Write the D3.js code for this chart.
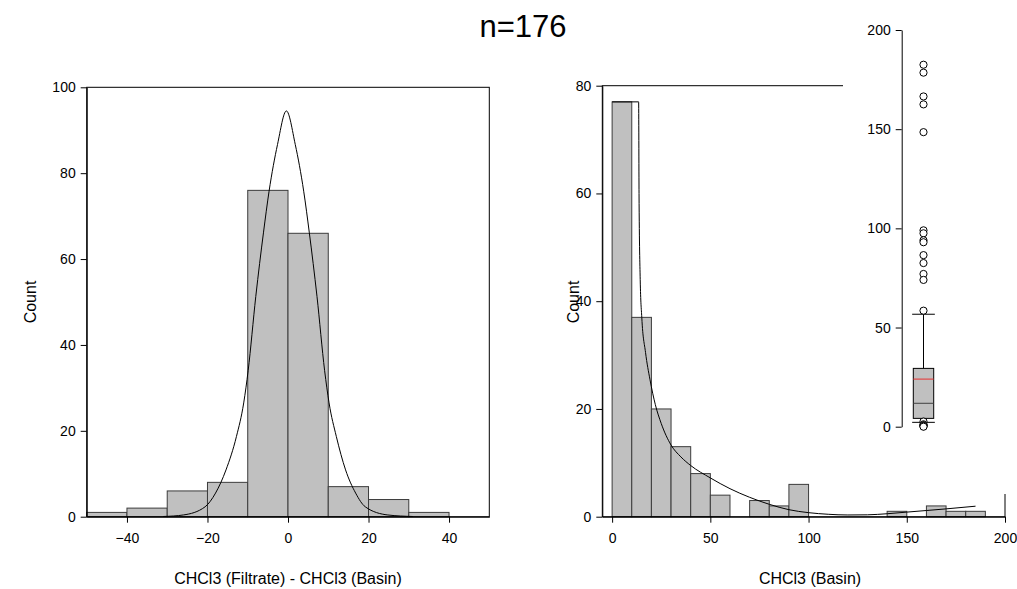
<!DOCTYPE html>
<html><head><meta charset="utf-8">
<script src="https://cdn.jsdelivr.net/npm/d3@7"></script>
<style>
body{margin:0;background:#fff;}
svg{display:block;font-family:"Liberation Sans",Arial,sans-serif;}
</style></head>
<body><svg id="c" width="1017" height="589"></svg>
<script>
// ---- data ----
const titleText = "n=176";
const leftBinStarts = [-50,-40,-30,-20,-10,0,10,20,30,40];
const leftCounts    = [1,2,6,8,76,66,7,4,1,0];
const leftBinWidth = 10;
const leftCurveX = [-31,-26,-20.6,-18,-15.4,-12.8,-11,-9.9,-8,-6.1,-4.7,-2.6,-0.4,1.8,3.9,5.3,7.2,9.1,10.2,12,14.3,16.8,19.2,24.8,31];
const leftCurveY = [0.05,0.4,2.3,5.5,10.9,18.7,26.5,34,51.3,66.1,75.8,86.7,94.5,86.7,75.8,66.1,51.3,34,26.5,18.7,10.9,5.5,2.3,0.4,0.05];
const leftXTicks = [-40,-20,0,20,40];
const leftYTicks = [0,20,40,60,80,100];

const rightBinStarts = [0,10,20,30,40,50,60,70,80,90,100,110,120,130,140,150,160,170,180];
const rightCounts    = [77,37,20,13,8,4,0,3,2,6,0,0,0,0,1,0,2,1,1];
const rightBinWidth = 10;
const rightCurveX = [0,13.5,13.7,14.3,15.1,17,19.3,22,25,30,35,40,50,60,70,80,90,100,110,120,130,140,150,160,170,185];
const rightCurveY = [77,77,60,44,37,30.5,25.4,20.8,17.3,13.3,11.1,9.5,7.2,5.2,3.6,2.3,1.3,0.75,0.45,0.32,0.35,0.55,0.85,1.15,1.45,1.95];
const rightXTicks = [0,50,100,150,200];
const rightYTicks = [0,20,40,60,80];

const boxStats = {q1:4.2, median:11.8, mean:24, q3:29.4, whiskerLow:2.2, whiskerHigh:56.7};
const boxOutliers = [182.5,178.5,166.5,162.5,148.5,99,97.5,94,93,86.5,82.5,77,74,58.5,2.6,1.2,0.8,0.5,0.2,0];
const boxYTicks = [0,50,100,150,200];

const xLabelLeft = "CHCl3 (Filtrate) - CHCl3 (Basin)";
const xLabelRight = "CHCl3 (Basin)";
const yLabel = "Count";

// ---- drawing ----
const svg = d3.select("#c");
const barFill = "#c0c0c0", barStroke = "#3c3c3c";
const tickFont = "14px", labelFont = "16px";

// Left panel
const xL = d3.scaleLinear().domain([-50,50]).range([86.7,489.3]);
const yL = d3.scaleLinear().domain([0,100]).range([516.7,87.3]);
const gL = svg.append("g");
gL.selectAll("rect.bar").data(leftBinStarts.map((s,i)=>({s,c:leftCounts[i]})).filter(d=>d.c>0))
  .join("rect").attr("x",d=>xL(d.s)).attr("y",d=>yL(d.c))
  .attr("width",d=>xL(d.s+leftBinWidth)-xL(d.s)).attr("height",d=>yL(0)-yL(d.c))
  .attr("fill",barFill).attr("stroke",barStroke).attr("stroke-width",1);
gL.append("path").datum(leftCurveX.map((x,i)=>[x,leftCurveY[i]]))
  .attr("d",d3.line().x(d=>xL(d[0])).y(d=>yL(d[1])).curve(d3.curveMonotoneX))
  .attr("fill","none").attr("stroke","#000").attr("stroke-width",1);
gL.append("rect").attr("x",xL(-50)).attr("y",yL(100)).attr("width",xL(50)-xL(-50)).attr("height",yL(0)-yL(100))
  .attr("fill","none").attr("stroke","#000").attr("stroke-width",1);
gL.append("g").attr("transform",`translate(0,${yL(0)})`)
  .call(d3.axisBottom(xL).tickValues(leftXTicks).tickSize(6).tickSizeOuter(0).tickPadding(10));
gL.append("g").attr("transform",`translate(${xL(-50)},0)`)
  .call(d3.axisLeft(yL).tickValues(leftYTicks).tickSize(6).tickSizeOuter(0).tickPadding(5));

// Right panel
const xR = d3.scaleLinear().domain([-5,200]).range([602.3,1005]);
const yR = d3.scaleLinear().domain([0,80]).range([516.7,85.7]);
const gR = svg.append("g");
gR.selectAll("rect.bar").data(rightBinStarts.map((s,i)=>({s,c:rightCounts[i]})).filter(d=>d.c>0))
  .join("rect").attr("x",d=>xR(d.s)).attr("y",d=>yR(d.c))
  .attr("width",d=>xR(d.s+rightBinWidth)-xR(d.s)).attr("height",d=>yR(0)-yR(d.c))
  .attr("fill",barFill).attr("stroke",barStroke).attr("stroke-width",1);
gR.append("path").datum(rightCurveX.map((x,i)=>[x,rightCurveY[i]]))
  .attr("d",d3.line().x(d=>xR(d[0])).y(d=>yR(d[1])).curve(d3.curveMonotoneX))
  .attr("fill","none").attr("stroke","#000").attr("stroke-width",1);
gR.append("rect").attr("x",xR(-5)).attr("y",yR(80)).attr("width",xR(200)-xR(-5)).attr("height",yR(0)-yR(80))
  .attr("fill","none").attr("stroke","#000").attr("stroke-width",1);
gR.append("g").attr("transform",`translate(0,${yR(0)})`)
  .call(d3.axisBottom(xR).tickValues(rightXTicks).tickSize(6).tickSizeOuter(0).tickPadding(10));
gR.append("g").attr("transform",`translate(${xR(-5)},0)`)
  .call(d3.axisLeft(yR).tickValues(rightYTicks).tickSize(6).tickSizeOuter(0).tickPadding(5));

// Inset box plot (white background covering the panel's corner)
const gB = svg.append("g");
gB.append("rect").attr("x",843).attr("y",0).attr("width",174).attr("height",494).attr("fill","#fff");
const yB = d3.scaleLinear().domain([0,200]).range([426.7,30]);
const bx = 923.5, bw = 20.4, capW = 22.7;
gB.append("g").attr("transform","translate(901.7,0)")
  .call(d3.axisLeft(yB).tickValues(boxYTicks).tickSize(6).tickSizeOuter(0).tickPadding(5));
gB.append("line").attr("x1",bx).attr("x2",bx).attr("y1",yB(boxStats.q3)).attr("y2",yB(boxStats.whiskerHigh)).attr("stroke","#000");
gB.append("line").attr("x1",bx).attr("x2",bx).attr("y1",yB(boxStats.q1)).attr("y2",yB(boxStats.whiskerLow)).attr("stroke","#000");
[boxStats.whiskerHigh, boxStats.whiskerLow].forEach(v=>{
  gB.append("line").attr("x1",bx-capW/2).attr("x2",bx+capW/2).attr("y1",yB(v)).attr("y2",yB(v)).attr("stroke","#000");
});
gB.append("rect").attr("x",bx-bw/2).attr("y",yB(boxStats.q3)).attr("width",bw).attr("height",yB(boxStats.q1)-yB(boxStats.q3))
  .attr("fill",barFill).attr("stroke","#000");
gB.append("line").attr("x1",bx-bw/2).attr("x2",bx+bw/2).attr("y1",yB(boxStats.median)).attr("y2",yB(boxStats.median)).attr("stroke","#404040");
gB.append("line").attr("x1",bx-bw/2).attr("x2",bx+bw/2).attr("y1",yB(boxStats.mean)).attr("y2",yB(boxStats.mean)).attr("stroke","#e83030");
gB.selectAll("circle").data(boxOutliers).join("circle")
  .attr("cx",bx).attr("cy",d=>yB(d)).attr("r",3.6).attr("fill","#fff").attr("stroke","#000").attr("stroke-width",1);

// Text styling
svg.selectAll(".tick text").attr("font-size",tickFont).attr("fill","#000").attr("font-family","Liberation Sans, Arial, sans-serif");
svg.selectAll(".domain").attr("stroke","#000");
svg.selectAll(".tick line").attr("stroke","#000");

svg.append("text").attr("x",523).attr("y",37).attr("text-anchor","middle").attr("font-size","31px").text(titleText);
svg.append("text").attr("x",288).attr("y",584).attr("text-anchor","middle").attr("font-size",labelFont).text(xLabelLeft);
svg.append("text").attr("x",810).attr("y",584).attr("text-anchor","middle").attr("font-size",labelFont).text(xLabelRight);
svg.append("text").attr("transform","translate(36,302) rotate(-90)").attr("text-anchor","middle").attr("font-size",labelFont).text(yLabel);
svg.append("text").attr("transform","translate(579,302) rotate(-90)").attr("text-anchor","middle").attr("font-size",labelFont).text(yLabel);
</script></body></html>
